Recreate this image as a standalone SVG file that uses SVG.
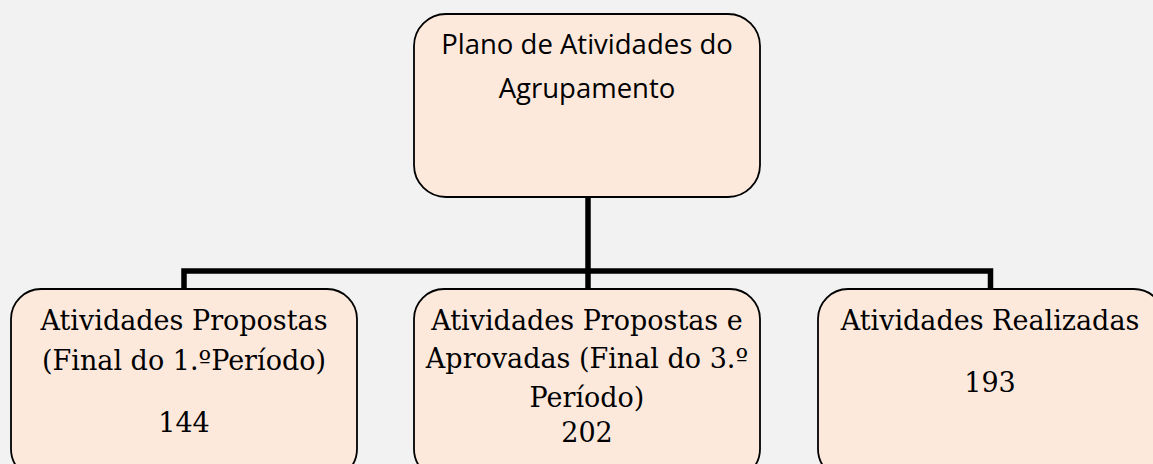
<svg xmlns="http://www.w3.org/2000/svg" width="1153" height="464" viewBox="0 0 1153 464">
<style>
.box{fill:#fce9dc;stroke:#000;stroke-width:1.8}
.conn{fill:none;stroke:#000;stroke-width:5.5;stroke-linejoin:miter}
.sans{font-family:"Open Sans","Liberation Sans",sans-serif;font-size:27.5px;fill:#000;text-anchor:middle}
.serif{font-family:"DejaVu Serif","Liberation Serif",serif;font-size:27px;fill:#000;text-anchor:middle}
</style>
<rect width="1153" height="464" fill="#f2f2f2"/>
<g id="connectors">
<path class="conn" d="M588 197 V271"/>
<path class="conn" d="M184 289 V271 H990.5 V289"/>
<path class="conn" d="M588 271 V289"/>
</g>
<g id="top">
<rect class="box" x="414" y="14" width="346" height="183" rx="32"/>
<text class="sans" x="587" y="54">Plano de Atividades do</text>
<text class="sans" x="587" y="98">Agrupamento</text>
</g>
<g id="left">
<rect class="box" x="11" y="289" width="346" height="190" rx="30"/>
<text class="serif" x="184" y="330">Atividades Propostas</text>
<text class="serif" x="184" y="370">(Final do 1.ºPeríodo)</text>
<text class="serif" x="184" y="432">144</text>
</g>
<g id="middle">
<rect class="box" x="414" y="289" width="346" height="190" rx="30"/>
<text class="serif" x="587" y="330">Atividades Propostas e</text>
<text class="serif" x="587" y="368">Aprovadas (Final do 3.º</text>
<text class="serif" x="587" y="407">Período)</text>
<text class="serif" x="587" y="442">202</text>
</g>
<g id="right">
<rect class="box" x="818" y="289" width="346" height="190" rx="30"/>
<text class="serif" x="990" y="330">Atividades Realizadas</text>
<text class="serif" x="990" y="392">193</text>
</g>
</svg>
